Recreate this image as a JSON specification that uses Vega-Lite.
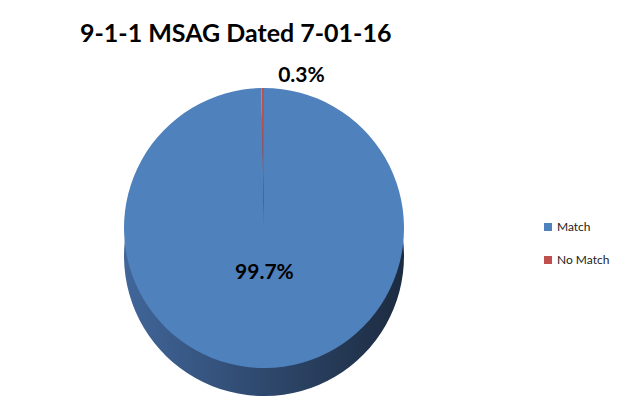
{
  "$schema": "https://vega.github.io/schema/vega-lite/v6.json",
  "width": 642,
  "height": 415,
  "autosize": {"type": "fit", "contains": "padding"},
  "padding": {"left": 4, "top": 22, "right": 118, "bottom": 12},
  "background": "white",
  "view": {"stroke": null},
  "title": {
    "text": "9-1-1 MSAG Dated 7-01-16",
    "font": "Lato",
    "fontSize": 25,
    "fontWeight": "bold",
    "color": "#000000",
    "anchor": "start",
    "frame": "group",
    "dx": 76,
    "offset": 6
  },
  "data": {
    "values": [
      {"category": "Match", "value": 99.7, "label": "99.7%"},
      {"category": "No Match", "value": 0.3, "label": "0.3%"}
    ]
  },
  "encoding": {
    "theta": {"field": "value", "type": "quantitative", "stack": true}
  },
  "layer": [
    {
      "mark": {
        "type": "arc",
        "outerRadius": 140,
        "yOffset": 28,
        "color": {
          "gradient": "linear",
          "x1": 0, "x2": 1, "y1": 0, "y2": 0,
          "stops": [
            {"offset": 0, "color": "#41669a"},
            {"offset": 1, "color": "#1c2b40"}
          ]
        }
      }
    },
    {
      "mark": {"type": "arc", "outerRadius": 140},
      "encoding": {
        "color": {
          "field": "category",
          "type": "nominal",
          "scale": {"domain": ["Match", "No Match"], "range": ["#4f81bd", "#c0504d"]},
          "legend": {
            "title": null,
            "orient": "none",
            "legendX": 538,
            "legendY": 168,
            "symbolType": "square",
            "symbolSize": 64,
            "symbolStrokeWidth": 0,
            "labelFont": "Lato",
            "labelFontSize": 12,
            "labelColor": "#222222",
            "rowPadding": 21,
            "labelOffset": 3
          }
        }
      }
    },
    {
      "transform": [{"filter": "datum.category == 'Match'"}],
      "mark": {
        "type": "text",
        "radius": 45,
        "font": "Lato",
        "fontSize": 21,
        "fontWeight": "bold",
        "color": "#000000"
      },
      "encoding": {"text": {"field": "label"}}
    },
    {
      "transform": [{"filter": "datum.category == 'No Match'"}],
      "mark": {
        "type": "text",
        "radius": 152,
        "dx": 36,
        "font": "Lato",
        "fontSize": 21,
        "fontWeight": "bold",
        "color": "#000000"
      },
      "encoding": {"text": {"field": "label"}}
    }
  ]
}
